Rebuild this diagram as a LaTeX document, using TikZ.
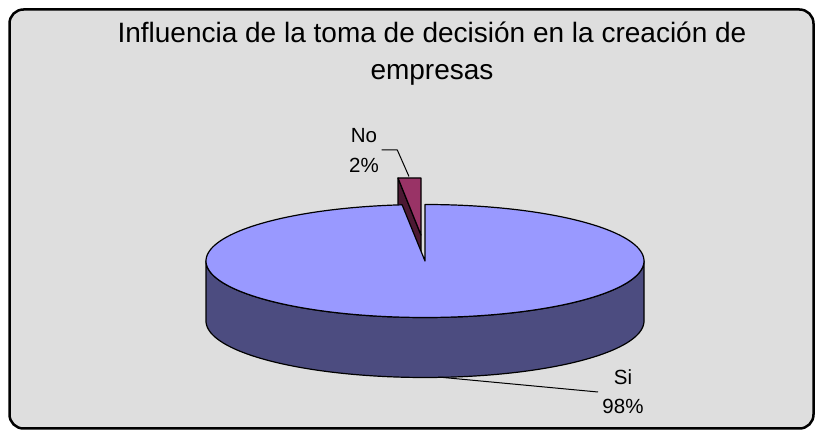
\documentclass[tikz,border=0pt]{standalone}
\usepackage{fontspec}
\setmainfont{Liberation Sans}
\definecolor{marble}{HTML}{DEDEDE}
\definecolor{pietop}{HTML}{9999FF}
\definecolor{pieside}{HTML}{4C4C80}
\definecolor{slicetop}{HTML}{993366}
\definecolor{sliceside}{HTML}{4C1933}
\begin{document}
\begin{tikzpicture}[x=1pt,y=-1pt,line join=round,
  outl/.style={draw=black,line width=1.2pt},
  lead/.style={draw=black,line width=1pt},
  lbl/.style={font=\fontsize{20.5}{30.5}\selectfont,inner sep=0pt,anchor=base,align=center,text=black},
  ttl/.style={font=\fontsize{28}{37}\selectfont,inner sep=0pt,anchor=base,align=center,text=black}]
\useasboundingbox (0,0) rectangle (815,430);
\fill[white] (0,0) rectangle (815,430);
\draw[fill=marble,line width=2.5pt,rounded corners=14pt] (9.5,9.5) rectangle (813.5,428.5);
% exploded slice (No)
\coordinate (sA) at (398,178);
\coordinate (sB) at (421,178);
\coordinate (sC) at (421,235);
\coordinate (sD) at (421,295);
\coordinate (sE) at (398,238);
\draw[outl,fill=sliceside] (sA) -- (sC) -- (sD) -- (sE) -- cycle;
\draw[outl,fill=slicetop] (sA) -- (sB) -- (sC) -- cycle;
% main body (Si)
\draw[outl,fill=pieside] plot[domain=180:360,samples=120] ({425+219*cos(\x)},{261-56.5*sin(\x)})
  -- plot[domain=360:180,samples=120] ({425+219*cos(\x)},{321-56.5*sin(\x)}) -- cycle;
\draw[outl,fill=pietop] (425,261) -- plot[domain=96:450,samples=300] ({425+219*cos(\x)},{261-56.5*sin(\x)}) -- cycle;
% title
\node[ttl] (title) at (432,80) {Influencia de la toma de decisión en la creación de\\empresas};
% labels
\node[lbl] (noLbl) at (364,173) {No\\2\%};
\node[lbl,font=\fontsize{20.5}{29}\selectfont] (siLbl) at (623,413.3) {Si\\98\%};
\coordinate (noA) at (381.7,150);
\coordinate (noB) at (397.3,150);
\coordinate (noC) at (409,176.5);
\draw[lead] (noA) -- (noB) -- (noC);
\coordinate (siA) at (438,377);
\coordinate (siB) at (598,392);
\draw[lead] (siA) -- (siB);
\end{tikzpicture}
\end{document}
